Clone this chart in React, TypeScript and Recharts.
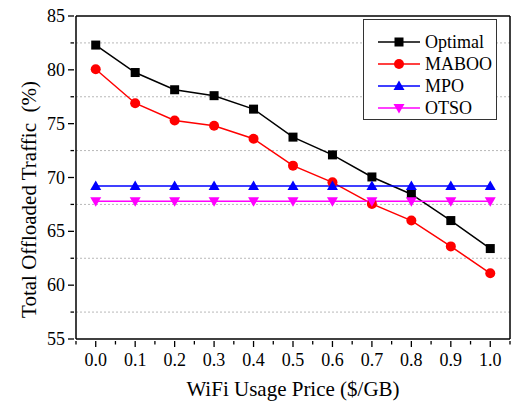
import { LineChart, Line, XAxis, YAxis, CartesianGrid, ReferenceLine } from "recharts";

const FONT = '"Liberation Serif", "Times New Roman", serif';

const prices = [0.0, 0.1, 0.2, 0.3, 0.4, 0.5, 0.6, 0.7, 0.8, 0.9, 1.0];
const optimal = [82.3, 79.75, 78.15, 77.6, 76.35, 73.75, 72.1, 70.05, 68.45, 66.0, 63.4];
const maboo = [80.05, 76.9, 75.3, 74.8, 73.6, 71.1, 69.55, 67.55, 66.0, 63.6, 61.1];
const mpo = [69.2, 69.2, 69.2, 69.2, 69.2, 69.2, 69.2, 69.2, 69.2, 69.2, 69.2];
const otso = [67.8, 67.8, 67.8, 67.8, 67.8, 67.8, 67.8, 67.8, 67.8, 67.8, 67.8];

const xTicks = [-0.05, 0, 0.05, 0.1, 0.15, 0.2, 0.25, 0.3, 0.35, 0.4, 0.45, 0.5, 0.55, 0.6, 0.65, 0.7, 0.75, 0.8, 0.85, 0.9, 0.95, 1.0, 1.05];
const yTicks = [55, 57.5, 60, 62.5, 65, 67.5, 70, 72.5, 75, 77.5, 80, 82.5, 85];
const gridY = [57.5, 62.5, 67.5, 72.5, 77.5, 82.5];

const series = [
  { key: "optimal", name: "Optimal", color: "#000000", shape: "square" },
  { key: "maboo", name: "MABOO", color: "#ff0000", shape: "circle" },
  { key: "mpo", name: "MPO", color: "#0000ff", shape: "up" },
  { key: "otso", name: "OTSO", color: "#ff00ff", shape: "down" },
];

const data = prices.map((p, i) => ({ price: p, optimal: optimal[i], maboo: maboo[i], mpo: mpo[i], otso: otso[i] }));

function Marker({ shape, color, cx, cy }: { shape: string; color: string; cx: number; cy: number }) {
  if (shape === "square") return <rect x={cx - 4.5} y={cy - 4.5} width={9} height={9} fill={color} />;
  if (shape === "circle") return <circle cx={cx} cy={cy} r={5} fill={color} />;
  if (shape === "up") return <path d={`M${cx},${cy - 5.5} L${cx + 5.5},${cy + 4} L${cx - 5.5},${cy + 4} Z`} fill={color} />;
  return <path d={`M${cx},${cy + 5.5} L${cx + 5.5},${cy - 4} L${cx - 5.5},${cy - 4} Z`} fill={color} />;
}

function makeDot(shape: string, color: string) {
  return (props: { cx?: number; cy?: number; index?: number }) => {
    if (props.cx == null || props.cy == null) return <g key={props.index} />;
    return <Marker key={props.index} shape={shape} color={color} cx={props.cx} cy={props.cy} />;
  };
}

function XTick({ x, y, payload }: { x?: number; y?: number; payload?: { value: number } }) {
  const v = payload!.value;
  const major = Math.round(v * 100) % 10 === 0;
  return (
    <g>
      <line x1={x} x2={x} y1={y! - 8} y2={y! - 8 + (major ? 6 : 3.5)} stroke="#000" strokeWidth={1.3} />
      {major && (
        <text x={x} y={y! + 17} textAnchor="middle" fontFamily={FONT} fontSize={18} fill="#000">
          {v.toFixed(1)}
        </text>
      )}
    </g>
  );
}

function YTick({ x, y, payload }: { x?: number; y?: number; payload?: { value: number } }) {
  const v = payload!.value;
  const major = v % 5 === 0;
  return (
    <g>
      <line x1={x! + 8} x2={x! + 8 - (major ? 6 : 3.5)} y1={y} y2={y} stroke="#000" strokeWidth={1.3} />
      {major && (
        <text x={x! - 1} y={y! + 6} textAnchor="end" fontFamily={FONT} fontSize={18} fill="#000">
          {v}
        </text>
      )}
    </g>
  );
}

function LegendBox() {
  return (
    <div style={{ position: "absolute", left: 363, top: 19, width: 134, height: 101, border: "1px solid #333", background: "#fff", boxSizing: "border-box", paddingTop: 11 }}>
      {series.map((s) => (
        <div key={s.key} style={{ display: "flex", alignItems: "center", height: 22 }}>
          <svg width={58} height={20} style={{ marginLeft: 14 }}>
            <line x1={0} x2={42} y1={10} y2={10} stroke={s.color} strokeWidth={1.5} />
            <Marker shape={s.shape} color={s.color} cx={21} cy={10} />
          </svg>
          <span style={{ fontFamily: FONT, fontSize: 18, lineHeight: "20px", color: "#000", marginLeft: -11 }}>{s.name}</span>
        </div>
      ))}
    </div>
  );
}

export default function App() {
  return (
    <div style={{ position: "absolute", left: 0, top: 0, width: 512, height: 405, background: "#fff" }}>
      <LineChart width={512} height={405} data={data} margin={{ top: 16, right: 2, bottom: 0, left: 0 }}>
        <CartesianGrid horizontalValues={gridY} vertical={false} stroke="#b8b8b8" strokeDasharray="2 2" />
        <XAxis
          dataKey="price"
          type="number"
          domain={[-0.05, 1.05]}
          ticks={xTicks}
          interval={0}
          height={66}
          tickLine={false}
          tickSize={8}
          tick={<XTick />}
          axisLine={{ stroke: "#000", strokeWidth: 1.5 }}
          label={{
            content: (p: { viewBox?: { x: number; y: number; width: number } }) => {
              const vb = p.viewBox!;
              return (
                <text x={vb.x + vb.width / 2} y={vb.y + 57} textAnchor="middle" fontFamily={FONT} fontSize={21} fill="#000">
                  WiFi Usage Price ($/GB)
                </text>
              );
            },
          }}
        />
        <YAxis
          type="number"
          domain={[55, 85]}
          ticks={yTicks}
          interval={0}
          width={76}
          tickLine={false}
          tickSize={8}
          tick={<YTick />}
          axisLine={{ stroke: "#000", strokeWidth: 1.5 }}
          label={{
            content: (p: { viewBox?: { x: number; y: number; height: number } }) => {
              const vb = p.viewBox!;
              const cx = vb.x + 29;
              const cy = vb.y + vb.height / 2 + 22;
              return (
                <text x={cx} y={cy} dy={7} transform={`rotate(-90 ${cx} ${cy})`} textAnchor="middle" fontFamily={FONT} fontSize={21} fill="#000" style={{ whiteSpace: "pre" }}>
                  Total Offloaded Traffic  (%)
                </text>
              );
            },
          }}
        />
        <ReferenceLine y={85} stroke="#000" strokeWidth={1.5} />
        <ReferenceLine x={1.05} stroke="#000" strokeWidth={1.5} />
        {series.map((s) => (
          <Line
            key={s.key}
            dataKey={s.key}
            name={s.name}
            stroke={s.color}
            strokeWidth={1.5}
            dot={makeDot(s.shape, s.color)}
            activeDot={false}
            isAnimationActive={false}
          />
        ))}
      </LineChart>
      <LegendBox />
    </div>
  );
}
